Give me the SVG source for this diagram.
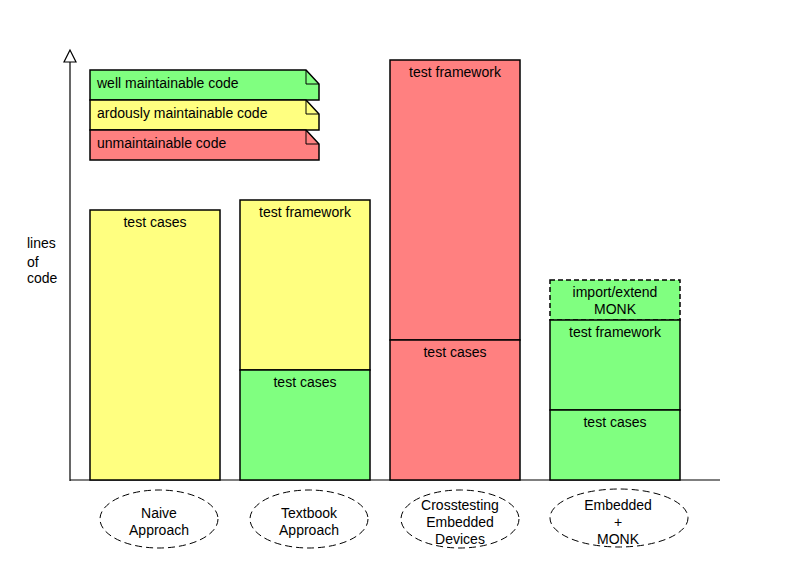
<svg xmlns="http://www.w3.org/2000/svg" width="800" height="570" viewBox="0 0 800 570">
<style>
text{font-family:"Liberation Sans",Arial,sans-serif;font-size:14px;fill:#000}
.c{text-anchor:middle}
.box{stroke:#000;stroke-width:1.5}
.g{fill:#80ff80}.y{fill:#ffff80}.r{fill:#ff8080}
.dash{stroke-dasharray:5,3}
.ell{fill:none;stroke:#000;stroke-width:1;stroke-dasharray:7,4}
</style>
<rect width="800" height="570" fill="#fff"/>
<g id="axes">
<line x1="70" y1="62" x2="70" y2="481" stroke="#000" stroke-width="1.2"/>
<polygon points="70,50 64,62 76,62" fill="#fff" stroke="#000" stroke-width="1.2"/>
<line x1="70" y1="480" x2="720" y2="480" stroke="#000" stroke-width="1.2"/>
<text x="27" y="248">lines</text>
<text x="27" y="267">of</text>
<text x="27" y="283">code</text>
</g>
<g id="legend">
<g id="legend-well">
<path class="box g" d="M90,70 H306 L319,84 V100 H90 Z"/>
<path d="M306,70 V84 H319" fill="none" stroke="#000" stroke-width="1"/>
<text x="97" y="88">well maintainable code</text>
</g>
<g id="legend-ardous">
<path class="box y" d="M90,100 H306 L319,114 V130 H90 Z"/>
<path d="M306,100 V114 H319" fill="none" stroke="#000" stroke-width="1"/>
<text x="97" y="118">ardously maintainable code</text>
</g>
<g id="legend-unmaint">
<path class="box r" d="M90,130 H306 L319,144 V160 H90 Z"/>
<path d="M306,130 V144 H319" fill="none" stroke="#000" stroke-width="1"/>
<text x="97" y="148">unmaintainable code</text>
</g>
</g>
<g id="naive">
<rect class="box y" x="90" y="210" width="130" height="270"/>
<text class="c" x="155" y="227">test cases</text>
</g>
<g id="textbook">
<rect class="box y" x="240" y="200" width="130" height="170"/>
<text class="c" x="305" y="217">test framework</text>
<rect class="box g" x="240" y="370" width="130" height="110"/>
<text class="c" x="305" y="387">test cases</text>
</g>
<g id="crosstesting">
<rect class="box r" x="390" y="60" width="130" height="280"/>
<text class="c" x="455" y="77">test framework</text>
<rect class="box r" x="390" y="340" width="130" height="140"/>
<text class="c" x="455" y="357">test cases</text>
</g>
<g id="embedded">
<rect class="box g dash" x="550" y="280" width="130" height="40"/>
<text class="c" x="615" y="297">import/extend</text>
<text class="c" x="615" y="314">MONK</text>
<rect class="box g" x="550" y="320" width="130" height="90"/>
<text class="c" x="615" y="337">test framework</text>
<rect class="box g" x="550" y="410" width="130" height="70"/>
<text class="c" x="615" y="427">test cases</text>
</g>
<g id="label-naive">
<ellipse class="ell" cx="159" cy="519" rx="59" ry="29"/>
<text class="c" x="159" y="518">Naive</text>
<text class="c" x="159" y="535">Approach</text>
</g>
<g id="label-textbook">
<ellipse class="ell" cx="309" cy="519" rx="59" ry="29"/>
<text class="c" x="309" y="518">Textbook</text>
<text class="c" x="309" y="535">Approach</text>
</g>
<g id="label-crosstesting">
<ellipse class="ell" cx="460" cy="519" rx="59" ry="29"/>
<text class="c" x="460" y="510">Crosstesting</text>
<text class="c" x="460" y="527">Embedded</text>
<text class="c" x="460" y="544">Devices</text>
</g>
<g id="label-embedded">
<ellipse class="ell" cx="619" cy="518" rx="69" ry="29"/>
<text class="c" x="618" y="510">Embedded</text>
<text class="c" x="618" y="527">+</text>
<text class="c" x="618" y="544">MONK</text>
</g>
</svg>
